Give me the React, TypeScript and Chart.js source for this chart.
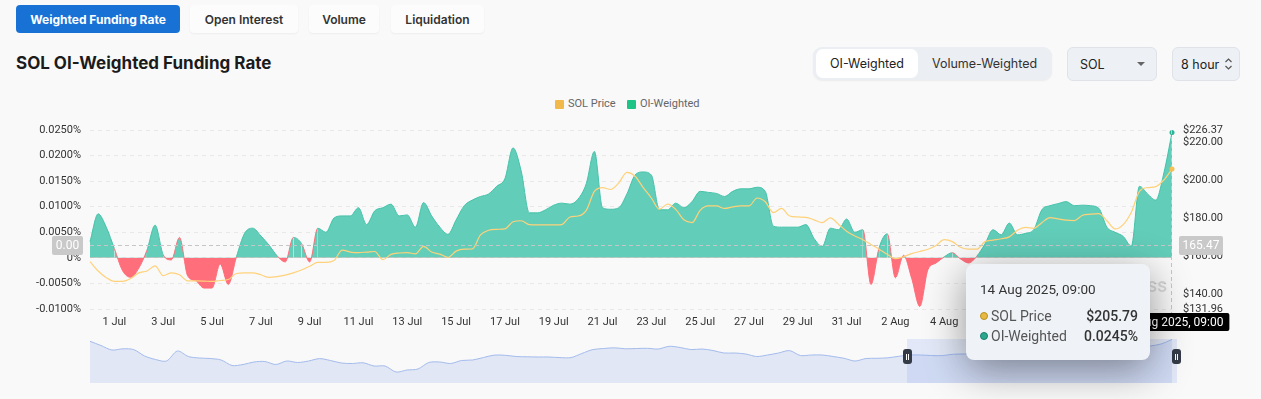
import React, { useEffect, useRef } from 'react';
import { Chart, registerables } from 'chart.js';

Chart.register(...registerables);

// OI-weighted funding rate (%), 8-hour steps
const FUNDING_RATE: number[] = [
  0.0032, 0.0086, 0.006, 0.0018, -0.0025, -0.0038, -0.002, 0.0015, 0.0064, 0.0006,
  -0.0004, 0.004, -0.0035, -0.0045, -0.0059, -0.0059, -0.0012, -0.0052, 0.0002, 0.0048,
  0.0058, 0.0043, 0.0025, 0.0004, -0.0008, 0.004, 0.0028, -0.0008, 0.0058, 0.005,
  0.0078, 0.0082, 0.0082, 0.0098, 0.0065, 0.0092, 0.0098, 0.0105, 0.0082, 0.0084,
  0.006, 0.0108, 0.0082, 0.006, 0.0046, 0.0074, 0.0102, 0.0113, 0.012, 0.0125,
  0.014, 0.0155, 0.0215, 0.017, 0.0088, 0.0088, 0.0094, 0.0103, 0.0107, 0.0105,
  0.0115, 0.0145, 0.0208, 0.0098, 0.0095, 0.0098, 0.0125, 0.0162, 0.0168, 0.0162,
  0.0094, 0.0094, 0.0107, 0.0098, 0.011, 0.013, 0.0128, 0.0126, 0.012, 0.013,
  0.0135, 0.0135, 0.0138, 0.013, 0.0062, 0.006, 0.006, 0.006, 0.0065, 0.0038,
  0.0022, 0.0058, 0.0055, 0.0076, 0.005, 0.0055, -0.0052, 0.002, 0.0047, -0.0039,
  0.0005, -0.004, -0.0095, -0.0023, -0.001, 0.0002, 0.001, -0.0002, -0.001, 0.0003,
  0.0027, 0.0055, 0.0045, 0.0068, 0.0045, 0.0048, 0.0055, 0.0094, 0.0102, 0.0106,
  0.011, 0.0102, 0.0103, 0.0102, 0.0097, 0.006, 0.005, 0.0042, 0.0023, 0.014,
  0.0125, 0.0113, 0.0166, 0.0245,
];

// SOL price (USD), same timestamps
const SOL_PRICE: number[] = [
  157, 152, 148.5, 146.5, 146.5, 148, 151, 152, 154.7, 149.5,
  151, 150, 146.8, 146.8, 146.7, 146.5, 147, 147.5, 150.7, 151,
  151, 150, 148.6, 149, 149.8, 151, 152.5, 154.5, 156.5, 156.5,
  157.5, 163, 162, 161.7, 162, 162.3, 158, 160.8, 161.5, 161.7,
  161, 165, 162, 160.9, 159.2, 162.5, 163.5, 163.6, 171, 173.5,
  174, 174.2, 178, 178.5, 176.5, 176.3, 176.3, 176.3, 176.5, 180.5,
  181, 184, 194, 196, 195, 198.5, 204, 202, 196, 190.5,
  184.6, 187.3, 184.5, 179, 177.5, 184, 186.3, 186.3, 185, 185.8,
  186.3, 186.3, 190.5, 188.5, 182.8, 185, 181, 180.5, 180.3, 179,
  177.5, 180, 176.7, 173, 170.5, 168.5, 166, 163.5, 160.8, 158.5,
  159.5, 161.2, 162.3, 163.5, 165.5, 168.5, 167.5, 164.5, 163.5, 163.5,
  167.5, 168.3, 169, 170, 173.5, 175, 174.5, 177.5, 180.2, 179.5,
  178.8, 178.6, 181.4, 182, 182.3, 178.5, 174.2, 176.5, 183, 194,
  196, 196.5, 200, 205.79,
];

const X_TICK_LABELS: string[] = [
  '1 Jul', '3 Jul', '5 Jul', '7 Jul', '9 Jul', '11 Jul', '13 Jul', '15 Jul', '17 Jul', '19 Jul',
  '21 Jul', '23 Jul', '25 Jul', '27 Jul', '29 Jul', '31 Jul', '2 Aug', '4 Aug', '6 Aug', '8 Aug',
  '10 Aug', '12 Aug',
];
const FIRST_TICK_INDEX = 3;
const TICK_EVERY = 6;

const RATE_MIN = -0.01;
const RATE_MAX = 0.025;
const RATE_STEP = 0.005;
const PRICE_TICKS: number[] = [131.96, 140, 160, 180, 200, 220, 226.37];

const CROSSHAIR_PRICE = 165.47;
const CROSSHAIR_RATE_LABEL = '0.00';
const HOVER_TIME = '14 Aug 2025, 09:00';
const HOVER_PRICE_TEXT = '$205.79';
const HOVER_RATE_TEXT = '0.0245%';

// overview (data-zoom) price shadow
const OVERVIEW_PRICE: number[] = [
  205.4, 197, 188, 190.4, 188.8, 176, 169, 166, 186, 175,
  172, 171, 168, 157, 159, 164, 165, 159, 166, 163,
  166, 170.8, 167, 162, 161, 162.4, 156, 156, 144, 148,
  150, 163, 164, 161, 167, 168, 173, 177.8, 177.4, 175,
  174.4, 174, 174, 172.8, 172.8, 181, 188.8, 191, 192.4, 190.4,
  191, 191.4, 190, 195.4, 193, 188.8, 190, 187, 182, 182,
  180, 175, 178, 182, 186.8, 177, 178, 178, 175, 171.4,
  166, 171, 171.4, 172.4, 175.4, 178, 178, 177, 176.8, 179.6,
  180, 182, 184, 182, 186, 188, 186, 188, 190, 188,
  192, 190, 192, 188, 190, 192, 194, 196, 200, 209,
];

const TICK_FONT = { family: 'Roboto', size: 11 };

function roundRect(ctx: CanvasRenderingContext2D, x: number, y: number, w: number, h: number, r: number) {
  ctx.beginPath();
  ctx.moveTo(x + r, y);
  ctx.lineTo(x + w - r, y);
  ctx.quadraticCurveTo(x + w, y, x + w, y + r);
  ctx.lineTo(x + w, y + h - r);
  ctx.quadraticCurveTo(x + w, y + h, x + w - r, y + h);
  ctx.lineTo(x + r, y + h);
  ctx.quadraticCurveTo(x, y + h, x, y + h - r);
  ctx.lineTo(x, y + r);
  ctx.quadraticCurveTo(x, y, x + r, y);
  ctx.closePath();
}

export default function App() {
  const mainRef = useRef<HTMLCanvasElement>(null);
  const zoomRef = useRef<HTMLCanvasElement>(null);

  useEffect(() => {
    document.body.style.margin = '0';
    document.body.style.background = '#f9f9f9';
    const last = FUNDING_RATE.length - 1;
    const labels = FUNDING_RATE.map((_, i) => String(i));

    const crosshair = {
      id: 'crosshair',
      beforeDatasetsDraw(chart: any) {
        const { ctx, chartArea: a } = chart;
        ctx.save();
        ctx.font = 'bold 15px Inter';
        ctx.fillStyle = 'rgba(0,0,0,0.13)';
        ctx.textAlign = 'right';
        ctx.textBaseline = 'middle';
        ctx.fillText('COINGLASS', a.right - 5, 287);
        ctx.restore();
      },
      afterDatasetsDraw(chart: any) {
        const { ctx, chartArea: a } = chart;
        const yP = Math.round(chart.scales.yPrice.getPixelForValue(CROSSHAIR_PRICE)) + 0.5;
        const xL = Math.round(chart.scales.x.getPixelForValue(last)) - 0.5;
        ctx.save();
        ctx.strokeStyle = '#c6c6c6';
        ctx.lineWidth = 1;
        ctx.setLineDash([4, 3]);
        ctx.beginPath();
        ctx.moveTo(a.left, yP);
        ctx.lineTo(a.right, yP);
        ctx.stroke();
        ctx.beginPath();
        ctx.moveTo(xL, a.top);
        ctx.lineTo(xL, a.bottom + 4);
        ctx.stroke();
        ctx.restore();
      },
      afterDraw(chart: any) {
        const { ctx, chartArea: a } = chart;
        const yP = chart.scales.yPrice.getPixelForValue(CROSSHAIR_PRICE);
        const xL = chart.scales.x.getPixelForValue(last);
        ctx.save();
        ctx.textAlign = 'center';
        ctx.textBaseline = 'middle';
        ctx.font = '12px Roboto';
        ctx.fillStyle = '#c9c9c9';
        roundRect(ctx, 52, yP - 9.5, 31, 19, 2);
        ctx.fill();
        ctx.fillStyle = '#ffffff';
        ctx.fillText(CROSSHAIR_RATE_LABEL, 67.5, yP + 0.5);
        ctx.fillStyle = '#c9c9c9';
        roundRect(ctx, a.right + 7, yP - 9.5, 44, 19, 2);
        ctx.fill();
        ctx.fillStyle = '#ffffff';
        ctx.fillText(CROSSHAIR_PRICE.toFixed(2), a.right + 29, yP + 0.5);
        const tw = ctx.measureText(HOVER_TIME).width + 12;
        ctx.fillStyle = '#000000';
        roundRect(ctx, xL - tw / 2, a.bottom + 4, tw, 18, 2);
        ctx.fill();
        ctx.fillStyle = '#ffffff';
        ctx.fillText(HOVER_TIME, xL, a.bottom + 13.5);
        ctx.restore();
      },
    };

    const main = new Chart(mainRef.current as HTMLCanvasElement, {
      type: 'line',
      data: {
        labels,
        datasets: [
          {
            label: 'SOL Price',
            data: SOL_PRICE,
            yAxisID: 'yPrice',
            borderColor: '#ffd27a',
            borderWidth: 1.2,
            fill: false,
            cubicInterpolationMode: 'monotone',
            pointRadius: (c: any) => (c.dataIndex === last ? 2.5 : 0),
            pointBackgroundColor: '#f3bf4f',
            pointBorderWidth: 0,
            order: 0,
          } as any,
          {
            label: 'OI-Weighted',
            data: FUNDING_RATE,
            yAxisID: 'yRate',
            borderColor: '#44c2a9',
            segment: {
              borderColor: (c: any) => (c.p0.parsed.y < 0 || c.p1.parsed.y < 0 ? '#ff6b78' : '#45c2a9'),
            },
            borderWidth: 1,
            fill: { target: 'origin', above: '#62cdb9', below: '#ff6f7b' },
            cubicInterpolationMode: 'monotone',
            pointRadius: (c: any) => (c.dataIndex === last ? 2.5 : 0),
            pointBackgroundColor: '#2bb597',
            pointBorderWidth: 0,
            order: 1,
          } as any,
        ],
      },
      options: {
        responsive: false,
        animation: false,
        events: [],
        layout: { padding: { top: 130, left: 0, right: 0, bottom: 0 } },
        plugins: { legend: { display: false }, tooltip: { enabled: false } },
        scales: {
          x: {
            grid: { display: false, drawTicks: false },
            border: { display: false },
            ticks: {
              autoSkip: false,
              maxRotation: 0,
              padding: 7,
              color: '#333333',
              font: TICK_FONT,
              callback: (_v: any, i: number) =>
                i >= FIRST_TICK_INDEX && (i - FIRST_TICK_INDEX) % TICK_EVERY === 0
                  ? X_TICK_LABELS[(i - FIRST_TICK_INDEX) / TICK_EVERY]
                  : null,
            },
            afterFit: (s: any) => {
              s.height = 90;
            },
          },
          yRate: {
            position: 'left',
            min: RATE_MIN,
            max: RATE_MAX,
            grid: { color: '#e8e8e8', drawTicks: false },
            border: { display: false, dash: [4, 4] },
            ticks: {
              stepSize: RATE_STEP,
              padding: 9,
              color: '#333333',
              font: TICK_FONT,
              callback: (v: any) => (Math.abs(Number(v)) < 1e-9 ? '0%' : Number(v).toFixed(4) + '%'),
            },
            afterFit: (s: any) => {
              s.width = 90;
            },
          },
          yPrice: {
            position: 'right',
            min: PRICE_TICKS[0],
            max: PRICE_TICKS[PRICE_TICKS.length - 1],
            grid: { display: false, drawTicks: false },
            border: { display: false },
            afterBuildTicks: (s: any) => {
              s.ticks = PRICE_TICKS.map((v) => ({ value: v }));
            },
            ticks: {
              autoSkip: false,
              padding: 11,
              color: '#333333',
              font: TICK_FONT,
              callback: (v: any) => '$' + Number(v).toFixed(2),
            },
            afterFit: (s: any) => {
              s.width = 89;
            },
          },
        },
      } as any,
      plugins: [crosshair],
    });

    const overview = new Chart(zoomRef.current as HTMLCanvasElement, {
      type: 'line',
      data: {
        labels: OVERVIEW_PRICE.map((_, i) => String(i)),
        datasets: [
          {
            data: OVERVIEW_PRICE,
            borderColor: '#a3bbec',
            borderWidth: 1,
            backgroundColor: '#e1e7f4',
            fill: 'start',
            pointRadius: 0,
            tension: 0.3,
          },
        ],
      },
      options: {
        responsive: false,
        animation: false,
        events: [],
        layout: { padding: 0 },
        plugins: { legend: { display: false }, tooltip: { enabled: false } },
        scales: {
          x: { display: false },
          y: { display: false, min: 122, max: 210 },
        },
      } as any,
    });

    return () => {
      main.destroy();
      overview.destroy();
    };
  }, []);

  const abs = (s: React.CSSProperties): React.CSSProperties => ({ position: 'absolute', ...s });
  const tab = (left: number, width: number, text: string, active = false) => (
    <div
      style={abs({
        left,
        top: 5,
        width,
        height: 28,
        borderRadius: 4,
        background: active ? '#1872d6' : '#fcfcfc',
        boxShadow: active ? 'none' : '0 1px 2px rgba(0,0,0,0.05)',
        color: active ? '#ffffff' : '#333333',
        font: `${active ? 700 : 600} 12px Inter`,
        display: 'flex',
        alignItems: 'center',
        justifyContent: 'center',
      })}
    >
      {text}
    </div>
  );

  const handle = (left: number) => (
    <div
      style={abs({
        left,
        top: 349,
        width: 9,
        height: 15,
        borderRadius: 3,
        background: '#343a46',
        display: 'flex',
        alignItems: 'center',
        justifyContent: 'center',
        gap: 1,
      })}
    >
      <div style={{ width: 1, height: 6, background: '#ffffff' }} />
      <div style={{ width: 1, height: 6, background: '#ffffff' }} />
    </div>
  );

  return (
    <div style={{ position: 'relative', width: 1261, height: 399, overflow: 'hidden', background: '#f9f9f9', fontFamily: 'Inter' }}>
      {tab(16, 164, 'Weighted Funding Rate', true)}
      {tab(190, 108, 'Open Interest')}
      {tab(309, 70, 'Volume')}
      {tab(391, 93, 'Liquidation')}
      <div style={abs({ left: 16, top: 53, font: '700 17px Inter', color: '#1b1b1b', whiteSpace: 'nowrap' })}>
        SOL OI-Weighted Funding Rate
      </div>

      <div style={abs({ left: 813, top: 47, width: 239, height: 33, borderRadius: 9, background: '#ebeef2', boxShadow: '0 1px 2px rgba(0,0,0,0.06)' })} />
      <div style={abs({ left: 816, top: 49, width: 102, height: 29, borderRadius: 7, background: '#ffffff', display: 'flex', alignItems: 'center', justifyContent: 'center', font: '400 12.5px Inter', color: '#222' })}>
        OI-Weighted
      </div>
      <div style={abs({ left: 920, top: 49, width: 129, height: 29, display: 'flex', alignItems: 'center', justifyContent: 'center', font: '400 12.5px Inter', color: '#333' })}>
        Volume-Weighted
      </div>

      <div style={abs({ left: 1067, top: 47, width: 90, height: 34, borderRadius: 6, background: '#edf0f4', border: '1px solid #dfe3e8', display: 'flex', alignItems: 'center', paddingLeft: 12, boxSizing: 'border-box', font: '400 12.5px Inter', color: '#222' })}>
        SOL
      </div>
      <div style={abs({ left: 1137, top: 62, width: 0, height: 0, borderLeft: '4px solid transparent', borderRight: '4px solid transparent', borderTop: '4px solid #666' })} />

      <div style={abs({ left: 1172, top: 47, width: 68, height: 34, borderRadius: 6, background: '#edf0f4', border: '1px solid #dfe3e8', display: 'flex', alignItems: 'center', paddingLeft: 8, boxSizing: 'border-box', font: '400 12.5px Inter', color: '#222' })}>
        8 hour
      </div>
      <svg style={abs({ left: 1224, top: 56 })} width="9" height="16" viewBox="0 0 9 16">
        <path d="M1.5 6 L4.5 3 L7.5 6" fill="none" stroke="#555" strokeWidth="1.2" />
        <path d="M1.5 10 L4.5 13 L7.5 10" fill="none" stroke="#555" strokeWidth="1.2" />
      </svg>

      <div style={abs({ left: 555, top: 100, width: 9, height: 9, background: '#f0b94a', borderRadius: 1 })} />
      <div style={abs({ left: 568, top: 96, font: '400 11px Roboto', color: '#666', lineHeight: '16px' })}>SOL Price</div>
      <div style={abs({ left: 627, top: 100, width: 9, height: 9, background: '#1ec386', borderRadius: 1 })} />
      <div style={abs({ left: 640, top: 96, font: '400 11px Roboto', color: '#666', lineHeight: '16px' })}>OI-Weighted</div>

      <canvas ref={mainRef} width={1261} height={399} style={abs({ left: 0, top: 0, width: 1261, height: 399 })} />

      <canvas ref={zoomRef} width={1082} height={44} style={abs({ left: 90, top: 339, width: 1082, height: 44 })} />
      <div style={abs({ left: 907, top: 339, width: 270, height: 44, background: 'rgba(135,165,240,0.2)' })} />
      {handle(903)}
      {handle(1172)}

      <div
        style={abs({
          left: 966,
          top: 264,
          width: 184,
          height: 96,
          borderRadius: 8,
          background: '#eff2f6',
          boxShadow: '0 10px 40px rgba(0,0,0,0.42)',
          fontFamily: 'Roboto',
          color: '#333',
        })}
      >
        <div style={abs({ left: 14, top: 17, fontSize: 13.5, fontWeight: 400, color: '#333', whiteSpace: 'nowrap' })}>{HOVER_TIME}</div>
        <div style={abs({ left: 14, top: 48, width: 8, height: 8, borderRadius: 4, background: '#e8b93f', border: '1px solid #b89022', boxSizing: 'border-box' })} />
        <div style={abs({ left: 25, top: 44, fontSize: 14, color: '#555', lineHeight: '16px' })}>SOL Price</div>
        <div style={abs({ right: 12, top: 44, fontSize: 14, fontWeight: 500, color: '#333', lineHeight: '16px' })}>{HOVER_PRICE_TEXT}</div>
        <div style={abs({ left: 14, top: 68, width: 8, height: 8, borderRadius: 4, background: '#2aa88f', border: '1px solid #1d7d6a', boxSizing: 'border-box' })} />
        <div style={abs({ left: 25, top: 64, fontSize: 14, color: '#555', lineHeight: '16px' })}>OI-Weighted</div>
        <div style={abs({ right: 12, top: 64, fontSize: 14, fontWeight: 500, color: '#333', lineHeight: '16px' })}>{HOVER_RATE_TEXT}</div>
      </div>
    </div>
  );
}
